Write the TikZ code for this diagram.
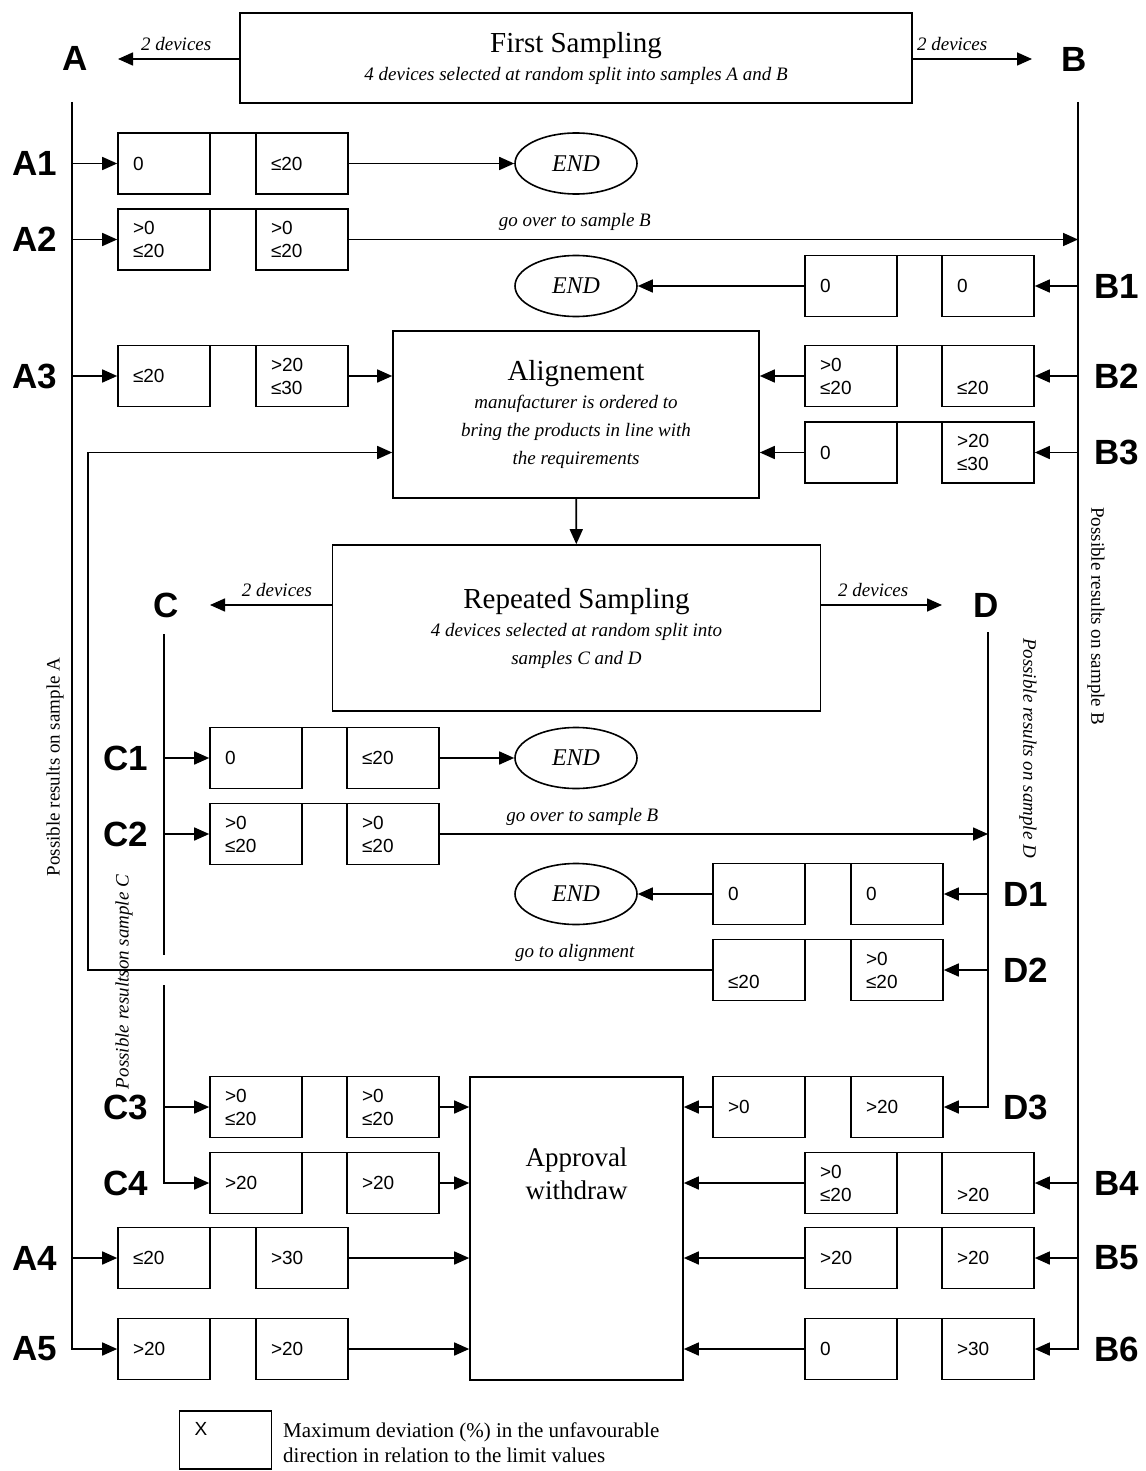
\documentclass[tikz,border=0pt]{standalone}
\usepackage{fontspec}
\setmainfont{Liberation Serif}
\newfontfamily\arialf{Liberation Sans}
\usetikzlibrary{arrows.meta,shapes.geometric}
\newcommand\fs[2]{\fontsize{#1}{#2}\selectfont}
% pair of result boxes joined along their top edge
\newcommand\prow[6]{%
  \node[vbox] (#1a) at (#3,#2) {#5};
  \node[vbox] (#1b) at (#4,#2) {#6};
  \draw[ln] ([yshift=-0.8pt]#1a.north east) -- ([yshift=-0.8pt]#1b.north west);
}
\begin{document}
\begin{tikzpicture}[x=1pt,y=-1pt,
  ln/.style={line width=1.6pt},
  arr/.style={line width=1.6pt,-{Triangle[length=15pt,width=13pt]}},
  vbox/.style={draw,line width=1.6pt,minimum width=92pt,minimum height=61pt,
    text width=62pt,inner xsep=15pt,inner ysep=0pt,align=left,font=\arialf\fs{19}{23}},
  lab/.style={font=\arialf\bfseries\fs{35}{40},inner sep=0pt},
  endnode/.style={draw,ellipse,line width=1.6pt,minimum width=122pt,minimum height=61pt,
    inner sep=0pt,font=\itshape\fs{24}{28}},
  bigbox/.style={draw,line width=1.6pt,align=center,inner sep=0pt,font=\itshape\fs{19}{28}},
  note/.style={font=\itshape\fs{19}{22},inner sep=2pt,above=6pt},
  rot/.style={font=\fs{19}{22},inner sep=0pt},
]
\useasboundingbox (0,0) rectangle (1145,1471);

% ---------- main boxes ----------
\node[bigbox,minimum width=672pt,minimum height=90pt] (first) at (576,58)
  {{\upshape\fs{29}{30}First Sampling}\\4 devices selected at random split into samples A and B};
\node[bigbox,minimum width=366pt,minimum height=167pt] (align) at (576,414.5)
  {{\upshape\fs{29}{30}Alignement}\\manufacturer is ordered to\\bring the products in line with\\the requirements};
\node[bigbox,minimum width=488pt,minimum height=166pt] (rep) at (576.5,628)
  {{\upshape\fs{29}{30}Repeated Sampling}\\4 devices selected at random split into\\samples C and D};
\node[draw,line width=1.6pt,minimum width=213pt,minimum height=303pt,inner sep=0pt] (appr) at (576.5,1228.5) {};
\node[font=\fs{27}{33},align=center,inner sep=0pt] (apprtxt) at (576.5,1174) {Approval\\withdraw};

% ---------- END nodes ----------
\node[endnode] (end1) at (576,163.5) {END};
\node[endnode] (end2) at (576,286) {END};
\node[endnode] (end3) at (576,758) {END};
\node[endnode] (end4) at (576,894) {END};

% ---------- sample letters ----------
\node[lab] (lblA) at (75,58) {A};
\node[lab] (lblB) at (1074,59) {B};
\node[lab] (lblC) at (166,605) {C};
\node[lab] (lblD) at (986,605) {D};

% ---------- result rows ----------
\prow{A1}{163.5}{164}{302}{0}{≤20}
\prow{A2}{239.5}{164}{302}{>0\\≤20}{>0\\≤20}
\prow{B1}{286}{851}{988}{0}{0}
\prow{A3}{376}{164}{302}{≤20}{>20\\≤30}
\prow{B2}{376}{851}{988}{>0\\≤20}{\phantom{0}\\≤20}
\prow{B3}{452.5}{851}{988}{0}{>20\\≤30}
\prow{C1}{758}{256}{393}{0}{≤20}
\prow{C2}{834}{256}{393}{>0\\≤20}{>0\\≤20}
\prow{D1}{894}{759}{897}{0}{0}
\prow{D2}{970}{759}{897}{\phantom{0}\\≤20}{>0\\≤20}
\prow{C3}{1107}{256}{393}{>0\\≤20}{>0\\≤20}
\prow{D3}{1107}{759}{897}{>0}{>20}
\prow{C4}{1183}{256}{393}{>20}{>20}
\prow{B4}{1183}{851}{988}{>0\\≤20}{\phantom{0}\\>20}
\prow{A4}{1258}{164}{302}{≤20}{>30}
\prow{B5}{1258}{851}{988}{>20}{>20}
\prow{A5}{1349}{164}{302}{>20}{>20}
\prow{B6}{1349}{851}{988}{0}{>30}

% ---------- row labels ----------
\node[lab] (lA1) at (35,163.5) {A1};
\node[lab] (lA2) at (35,239.5) {A2};
\node[lab] (lA3) at (35,376) {A3};
\node[lab] (lA4) at (35,1258) {A4};
\node[lab] (lA5) at (35,1349) {A5};
\node[lab] (lB1) at (1117,286) {B1};
\node[lab] (lB2) at (1117,376) {B2};
\node[lab] (lB3) at (1117,452.5) {B3};
\node[lab] (lB4) at (1117,1183) {B4};
\node[lab] (lB5) at (1117,1258) {B5};
\node[lab] (lB6) at (1117,1349) {B6};
\node[lab] (lC1) at (126,758) {C1};
\node[lab] (lC2) at (126,834) {C2};
\node[lab] (lC3) at (126,1107) {C3};
\node[lab] (lC4) at (126,1183) {C4};
\node[lab] (lD1) at (1026,894) {D1};
\node[lab] (lD2) at (1026,970) {D2};
\node[lab] (lD3) at (1026,1107) {D3};

% ---------- rotated captions ----------
\node[rot,rotate=90] (capA) at (55,767) {Possible results on sample A};
\node[rot,rotate=-90] (capB) at (1096,616) {Possible results on sample B};
\node[rot,rotate=90,font=\itshape\fs{19}{22}] (capC) at (124,982) {Possible resultson sample C};
\node[rot,rotate=-90,font=\itshape\fs{19}{22}] (capD) at (1028,748) {Possible results on sample D};

% ---------- distribution arrows ----------
\coordinate (Aend) at (118,59);
\coordinate (Bend) at (1032,59);
\coordinate (Cend) at (210,605);
\coordinate (Dend) at (942,605);
\draw[arr] (first.west |- Aend) -- node[note,pos=0.52]{2 devices} (Aend);
\draw[arr] (first.east |- Bend) -- node[note,pos=0.33]{2 devices} (Bend);
\draw[arr] (rep.west |- Cend) -- node[note,pos=0.45]{2 devices} (Cend);
\draw[arr] (rep.east |- Dend) -- node[note,pos=0.43]{2 devices} (Dend);

% ---------- sample lines ----------
\coordinate (Atop) at (72,102);
\coordinate (Btop) at (1078,102);
\coordinate (Ctop) at (164,634);
\coordinate (Dtop) at (988,632);
\coordinate (Cg1) at (164,955);
\coordinate (Cg2) at (164,985);
\draw[arr] (Atop) |- (A5a.west);
\draw[arr] (Btop) |- (B6b.east);
\draw[ln] (Ctop) -- (Cg1);
\draw[arr] (Cg2) |- (C4a.west);
\draw[arr] (Dtop) |- (D3b.east);

\draw[arr] (A1a.west -| Atop) -- (A1a.west);
\draw[arr] (A2a.west -| Atop) -- (A2a.west);
\draw[arr] (A3a.west -| Atop) -- (A3a.west);
\draw[arr] (A4a.west -| Atop) -- (A4a.west);
\draw[arr] (B1b.east -| Btop) -- (B1b.east);
\draw[arr] (B2b.east -| Btop) -- (B2b.east);
\draw[arr] (B3b.east -| Btop) -- (B3b.east);
\draw[arr] (B4b.east -| Btop) -- (B4b.east);
\draw[arr] (B5b.east -| Btop) -- (B5b.east);
\draw[arr] (C1a.west -| Ctop) -- (C1a.west);
\draw[arr] (C2a.west -| Ctop) -- (C2a.west);
\draw[arr] (C3a.west -| Ctop) -- (C3a.west);
\draw[arr] (D1b.east -| Dtop) -- (D1b.east);
\draw[arr] (D2b.east -| Dtop) -- (D2b.east);

% ---------- outcomes ----------
\draw[arr] (A1b.east) -- (end1.west);
\draw[arr] (B1a.west) -- (end2.east);
\draw[arr] (C1b.east) -- (end3.west);
\draw[arr] (D1a.west) -- (end4.east);
\draw[arr] (A2b.east) -- node[note,pos=0.31]{go over to sample B} (A2b.east -| Btop);
\draw[arr] (C2b.east) -- node[note,pos=0.26]{go over to sample B} (C2b.east -| Dtop);

\draw[arr] (A3b.east) -- (A3b.east -| align.west);
\draw[arr] (B2a.west) -- (B2a.west -| align.east);
\draw[arr] (B3a.west) -- (B3a.west -| align.east);
\coordinate (L1) at (88,970);
\coordinate (L2) at (88,452.5);
\draw[arr] (D2a.west) -- node[note,pos=0.22]{go to alignment} (L1) -- (L2) -- (L2 -| align.west);
\draw[arr] (align) -- (rep);

\draw[arr] (C3b.east) -- (C3b.east -| appr.west);
\draw[arr] (C4b.east) -- (C4b.east -| appr.west);
\draw[arr] (A4b.east) -- (A4b.east -| appr.west);
\draw[arr] (A5b.east) -- (A5b.east -| appr.west);
\draw[arr] (D3a.west) -- (D3a.west -| appr.east);
\draw[arr] (B4a.west) -- (B4a.west -| appr.east);
\draw[arr] (B5a.west) -- (B5a.west -| appr.east);
\draw[arr] (B6a.west) -- (B6a.west -| appr.east);

% ---------- legend ----------
\node[vbox,minimum height=58pt] (legbox) at (225.5,1440) {X\\\phantom{X}};
\node[anchor=west,align=left,font=\fs{21}{25},inner sep=0pt] (legtxt) at (283,1443)
  {Maximum deviation (\%) in the unfavourable\\direction in relation to the limit values};
\end{tikzpicture}
\end{document}
